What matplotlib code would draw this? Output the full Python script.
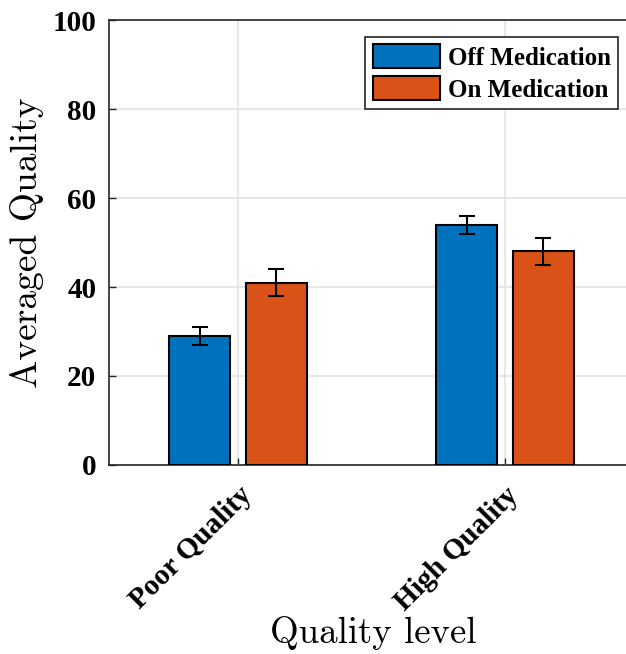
import numpy as np
import matplotlib
matplotlib.use("Agg")
import matplotlib.pyplot as plt

categories = ["Poor Quality", "High Quality"]
off_med = [29, 54]
on_med = [41, 48]
off_err = [2, 2]
on_err = [3, 3]

blue = "#0072BD"
orange = "#D95319"

fig = plt.figure(figsize=(6.26, 6.54), dpi=100)
ax = fig.add_axes([0.1741, 0.289, 0.8458, 0.6804])

x = np.arange(1, len(categories) + 1)
w = 0.228
off = 0.143
ax.bar(x - off, off_med, w, color=blue, edgecolor="black", linewidth=1.5,
       label="Off Medication", zorder=3)
ax.bar(x + off, on_med, w, color=orange, edgecolor="black", linewidth=1.5,
       label="On Medication", zorder=3)
ax.errorbar(x - off, off_med, yerr=off_err, fmt="none", ecolor="black",
            elinewidth=1.5, capsize=5.5, capthick=1.5, zorder=4)
ax.errorbar(x + off, on_med, yerr=on_err, fmt="none", ecolor="black",
            elinewidth=1.5, capsize=5.5, capthick=1.5, zorder=4)

ax.set_xlim(0.517, 2.5)
ax.set_ylim(0, 100)
ax.set_yticks([0, 20, 40, 60, 80, 100])
ax.set_xticks(x)
ax.set_xticklabels(categories, rotation=45, ha="right", rotation_mode="anchor",
                   fontfamily="Liberation Serif", fontweight="bold", fontsize=21)
for lab in ax.get_yticklabels():
    lab.set_fontfamily("Liberation Serif")
    lab.set_fontweight("bold")
    lab.set_fontsize(21)

ax.grid(True, color="#e3e3e3", linewidth=1.2, zorder=0)
ax.set_axisbelow(True)
ax.tick_params(direction="in", length=5, width=1, color="#262626")
ax.tick_params(axis="y", pad=9)
ax.tick_params(axis="x", pad=12)
for s in ["left", "bottom", "top"]:
    ax.spines[s].set_color("#262626")
    ax.spines[s].set_linewidth(1.2)
ax.spines["right"].set_visible(False)

ax.set_ylabel("Averaged Quality", fontfamily="cmr10", fontsize=27, labelpad=6)
ax.set_xlabel("Quality level", fontfamily="cmr10", fontsize=26.5, labelpad=0)

leg = ax.legend(loc="upper right", bbox_to_anchor=(0.962, 0.962),
                prop={"family": "Liberation Serif", "weight": "bold", "size": 18},
                fancybox=False, framealpha=1, edgecolor="#262626",
                handlelength=2.7, handleheight=1.1, handletextpad=0.3,
                borderpad=0.3, labelspacing=0.25, borderaxespad=0)
leg.get_frame().set_linewidth(1.2)

fig.savefig("out.png", dpi=100)
